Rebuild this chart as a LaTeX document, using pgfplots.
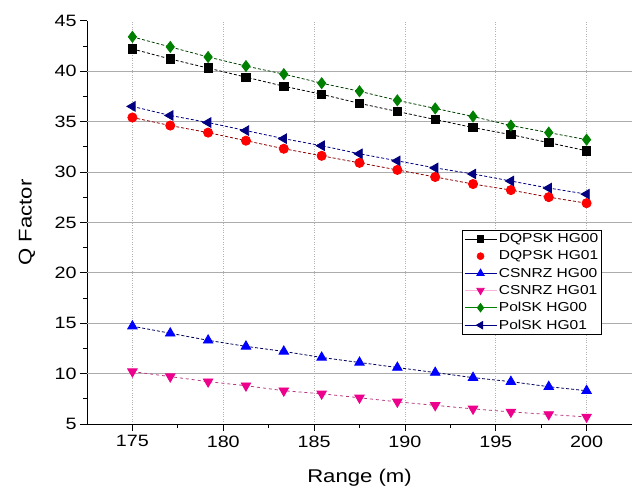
\documentclass[border=0pt]{standalone}
\usepackage{fontspec}
\setmainfont{Liberation Sans}[FakeStretch=1.2]
\usepackage{pgfplots}
\pgfplotsset{compat=1.18}
\definecolor{dgreen}{RGB}{0,128,0}
\definecolor{navy}{RGB}{0,0,128}
\begin{document}
\begin{tikzpicture}
\begin{axis}[
  at={(0,0)}, anchor=south west,
  width=545bp, height=403.3bp, scale only axis,
  xmin=172.5, xmax=202.5, ymin=5, ymax=45,
  axis x line=bottom, axis y line=left,
  axis line style={-, line width=0.9pt},
  xtick={175,180,...,200}, ytick={5,10,...,45},
  minor x tick num=1, minor y tick num=1,
  tick align=outside,
  major tick length=7bp, minor tick length=4bp,
  tick style={black, line width=0.8pt},
  /pgf/number format/assume math mode=true,
  ticklabel style={font=\fontsize{16.5}{18}\selectfont},
  xticklabel style={yshift=-1bp},
  xmajorgrids=true,
  major x grid style={gray!60, dotted, line width=0.7pt},
  extra y ticks={10,15,...,40},
  extra y tick labels={},
  extra y tick style={ymajorgrids=true, major tick length=0pt,
     major y grid style={gray!65, line width=0.7pt}},
  xlabel={Range (m)}, ylabel={Q Factor},
  label style={font=\fontsize{18.5}{20}\selectfont},
  xlabel style={at={(axis description cs:0.5,-0.133)}, anchor=center},
  ylabel style={at={(axis description cs:-0.11,0.5)}, anchor=center},
  legend style={at={(axis description cs:0.945,0.481)}, anchor=north east,
     font=\fontsize{13}{14}\selectfont, draw=black, line width=0.6pt,
     row sep=2.6bp, inner sep=1.5bp, fill=white},
  legend cell align=left,
  legend image code/.code={
    \draw[mark repeat=2,mark phase=2] plot coordinates {(0bp,0bp) (16bp,0bp) (32bp,0bp)};},
]
\pgfplotstableread{
x      dq0   dq1   cs0   cs1   po0   po1
175.000 42.2 35.4 14.7 10.2 43.4 36.5
177.083 41.2 34.6 14.0 9.7  42.4 35.6
179.167 40.3 33.9 13.3 9.2  41.4 34.9
181.250 39.4 33.1 12.7 8.8  40.5 34.1
183.333 38.5 32.3 12.2 8.3  39.7 33.3
185.417 37.7 31.6 11.6 8.0  38.8 32.6
187.500 36.8 30.9 11.1 7.6  38.0 31.8
189.583 36.0 30.2 10.6 7.2  37.1 31.1
191.667 35.2 29.5 10.1 6.85 36.3 30.4
193.750 34.4 28.8 9.6  6.5  35.5 29.8
195.833 33.7 28.2 9.2  6.2  34.6 29.1
197.917 32.9 27.5 8.7  5.95 33.9 28.4
200.000 32.1 26.9 8.3  5.7  33.2 27.8
}\data
\addplot[forget plot, black, densely dashed, line width=0.8pt, mark=square*, mark size=4.2bp, mark options={solid, fill=black}] table[x=x,y=dq0]{\data};
\addplot[forget plot, red!55!black, densely dashed, line width=0.8pt, mark=*, mark size=4.6bp, mark options={solid, draw=red, fill=red}] table[x=x,y=dq1]{\data};
\addplot[forget plot, blue!35!black, densely dashed, line width=0.8pt, mark=triangle*, mark size=5.5bp, mark options={solid, draw=blue, fill=blue}] table[x=x,y=cs0]{\data};
\addplot[forget plot, magenta!70!black, dashed, line width=0.8pt, mark=triangle*, mark size=5.5bp, mark options={solid, rotate=180, draw=magenta, fill=magenta}] table[x=x,y=cs1]{\data};
\addplot[forget plot, dgreen!50!black, densely dashed, line width=0.8pt, mark=diamond*, mark size=5.5bp, mark options={solid, draw=dgreen, fill=dgreen}] table[x=x,y=po0]{\data};
\addplot[forget plot, navy, densely dashed, line width=0.8pt, mark=triangle*, mark size=5.5bp, mark options={solid, rotate=90, draw=navy, fill=navy}] table[x=x,y=po1]{\data};
\addlegendimage{black, solid, line width=0.8pt, mark=square*, mark size=3.2bp}
\addlegendentry{DQPSK HG00}
\addlegendimage{only marks, red, mark=*, mark size=3.5bp}
\addlegendentry{DQPSK HG01}
\addlegendimage{blue!60!black, solid, line width=0.8pt, mark=triangle*, mark size=4.2bp, mark options={draw=blue, fill=blue}}
\addlegendentry{CSNRZ HG00}
\addlegendimage{magenta!30, solid, line width=0.8pt, mark=triangle*, mark size=4.2bp, mark options={rotate=180, draw=magenta, fill=magenta}}
\addlegendentry{CSNRZ HG01}
\addlegendimage{dgreen, solid, line width=0.8pt, mark=diamond*, mark size=4.2bp, mark options={draw=dgreen, fill=dgreen}}
\addlegendentry{PolSK HG00}
\addlegendimage{navy, solid, line width=0.8pt, mark=triangle*, mark size=4.2bp, mark options={rotate=90, draw=navy, fill=navy}}
\addlegendentry{PolSK HG01}
\end{axis}
\pgfresetboundingbox
\useasboundingbox (-87bp,-70bp) rectangle (551bp,424bp);
\end{tikzpicture}
\end{document}
